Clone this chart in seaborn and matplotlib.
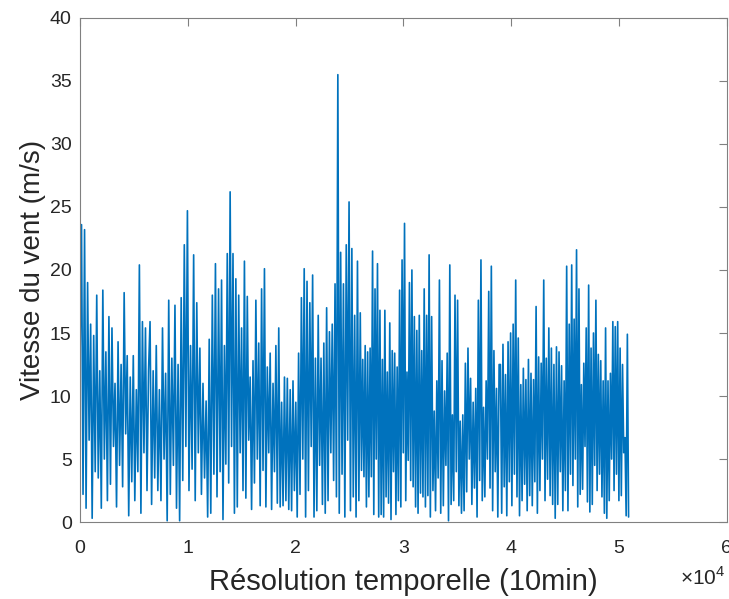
import numpy as np
import pandas as pd
import matplotlib
matplotlib.use('Agg')
import matplotlib.pyplot as plt
import seaborn as sns

# wind speed (m/s), peaks and troughs in order,
# one list per stretch of the record
v_0 = [12.5, 23.6, 2.2, 23.2, 1.1, 19.0, 6.5, 15.7, 0.3, 14.8, 4.0, 18.0, 3.5, 12.0, 1.1, 18.4,
       5.0, 13.5, 1.7, 16.3, 3.0, 15.4, 6.0, 11.0, 1.2, 14.3, 4.5, 12.5, 2.8, 18.2, 7.0, 13.2,
       0.5, 11.5, 3.2, 13.2, 1.7, 10.5, 4.0, 20.4, 0.7, 15.9, 5.5, 15.4, 2.5, 12.0]
v_1 = [15.9, 1.4, 12.0, 3.5, 14.0, 2.5, 10.5, 1.7, 15.4, 5.0, 11.8, 0.1, 17.6, 2.2, 13.0, 4.5,
       17.2, 1.1, 12.5, 0.1, 17.8, 3.3, 22.0, 6.0, 24.7, 2.5, 14.0, 4.2, 21.2, 1.7, 17.4, 5.5,
       13.8, 2.2, 11.0, 3.5, 9.6, 0.4, 14.5, 0.7, 18.0, 3.8, 20.5, 2.0, 18.5]
v_2 = [4.0, 19.2, 0.2, 14.0, 4.6, 21.3, 3.1, 26.2, 6.0, 21.3, 0.7, 19.3, 1.2, 18.0, 5.5, 15.4,
       2.5, 20.7, 1.9, 17.9, 6.5, 11.5, 1.0, 12.8, 3.1, 17.6, 5.0, 14.2, 1.3, 18.5, 4.1, 20.1,
       1.2, 12.3, 5.5, 13.4, 1.0, 11.0, 4.0, 14.0, 1.5, 15.4, 1.2, 9.5, 1.3, 11.5, 1.7, 11.4, 1.0]
v_3 = [10.5, 0.9, 11.2, 2.5, 9.5, 0.4, 13.4, 2.2, 17.8, 5.0, 20.1, 0.4, 19.1, 2.5, 17.4, 6.0,
       19.6, 0.4, 13.0, 0.9, 16.4, 4.5, 13.0, 1.4, 14.2, 0.7, 17.0, 1.7, 15.1, 5.5, 15.7, 3.3,
       18.9, 2.0, 35.5, 0.7, 21.4, 3.8, 18.9, 0.4, 22.0, 6.5, 25.4, 0.9, 21.7, 2.0, 16.4, 0.4,
       20.7, 1.7]
v_4 = [16.6, 4.1, 12.9, 3.6, 14.0, 1.2, 13.5, 2.0, 13.8, 3.6, 21.5, 0.6, 18.5, 5.0, 20.5, 0.4,
       16.8, 0.6, 12.9, 0.4, 16.8, 2.0, 11.9, 1.5, 15.8, 0.2, 13.6, 4.0, 13.4, 0.6, 12.3, 1.7,
       18.4, 1.2, 20.8, 5.5, 23.7, 1.7, 11.9, 4.9, 19.0, 3.3, 20.0, 2.8, 16.3, 1.2, 15.2, 0.7,
       16.4, 2.3, 13.6, 2.0, 18.5, 1.2, 16.4, 2.1, 21.2]
v_5 = [0.4, 16.3, 2.5, 8.8, 0.9, 11.2, 3.5, 19.2, 0.7, 12.8, 1.3, 10.4, 4.5, 13.4, 0.1, 20.4,
       1.4, 8.5, 1.7, 18.0, 4.0, 17.6, 1.3, 8.0, 0.7, 8.5, 0.9, 12.6, 2.4, 13.8, 5.0, 11.4,
       1.4, 9.5, 2.7, 10.6, 0.4, 17.6, 3.3, 20.8, 1.7, 9.1, 2.0, 11.2, 5.0, 18.3, 2.7, 20.3,
       0.9, 13.6, 4.0, 10.6, 0.4, 12.5]
v_6 = [12.5, 0.7, 14.1, 2.8, 11.7, 0.5, 14.3, 3.2, 15.0, 1.3, 15.7, 3.8, 19.2, 2.0, 14.6, 0.5,
       10.9, 1.7, 12.2, 3.0, 11.3, 0.9, 12.9, 2.1, 11.8, 1.3, 11.3, 3.2, 17.1, 0.7, 13.1, 2.5,
       12.6, 5.0, 19.2, 1.7, 13.0, 3.4, 15.4, 2.1, 13.8, 1.4, 12.5, 0.3, 13.9, 1.4, 13.5, 4.0,
       12.4, 0.9, 11.2, 2.5, 20.3, 0.9, 15.7]
v_7 = [3.8, 20.4, 2.9, 16.1, 5.0, 21.6, 1.2, 18.5, 2.2, 10.9, 2.6, 12.6, 6.0, 15.4, 1.6, 18.8,
       0.8, 13.8, 1.4, 15.0, 4.5, 17.6, 2.5, 13.3, 3.8, 12.8, 2.0, 11.2, 0.7, 15.4, 0.3, 11.2,
       1.7, 11.8, 5.0, 15.9, 2.5, 15.5, 3.8, 15.9, 1.7, 13.8, 2.1, 12.5, 5.5, 6.7, 0.5, 14.9, 0.4]
troncons = [v_0, v_1, v_2, v_3, v_4, v_5, v_6, v_7]
# sample index where each stretch starts / the record ends (10 min steps)
bornes = [1, 6500, 13000, 19500, 26000, 32500, 39000, 45500, 51000]

x_ticks = [0, 10000, 20000, 30000, 40000, 50000, 60000]
x_labels = ['0', '1', '2', '3', '4', '5', '6']
y_ticks = [0, 5, 10, 15, 20, 25, 30, 35, 40]

parts = []
for i, v in enumerate(troncons):
    t = np.linspace(bornes[i], bornes[i + 1], len(v), endpoint=False)
    parts.append(pd.DataFrame({'t': t, 'v': v}))
df = pd.concat(parts, ignore_index=True)

sns.set_style('white')
plt.rcParams['font.family'] = ['Liberation Sans', 'DejaVu Sans']
plt.rcParams['mathtext.fontset'] = 'custom'
plt.rcParams['mathtext.rm'] = 'Liberation Sans'

fig = plt.figure(figsize=(7.29, 5.99), dpi=100)
ax = fig.add_axes([0.1097, 0.1285, 0.8873, 0.8415])

sns.lineplot(data=df, x='t', y='v', ax=ax, color='#0072BD', linewidth=1.2)

ax.set_xlim(0, 60000)
ax.set_ylim(0, 40)
ax.set_xticks(x_ticks)
ax.set_xticklabels(x_labels)
ax.set_yticks(y_ticks)
ax.tick_params(direction='in', length=6, width=0.8, color='#808080', labelsize=14,
               labelcolor='#262626', top=True, right=True)
ax.tick_params(axis='x', pad=13)
ax.tick_params(axis='y', pad=6)
for s in ax.spines.values():
    s.set_visible(True)
    s.set_color('#808080')
    s.set_linewidth(0.8)

ax.text(0.997, -0.125, '×10$^{4}$', transform=ax.transAxes,
        ha='right', va='baseline', fontsize=15, color='#262626')

ax.set_xlabel('Résolution temporelle (10min)', fontsize=21, color='#262626', labelpad=8)
ax.set_ylabel('Vitesse du vent (m/s)', fontsize=20, color='#262626', labelpad=3)

fig.savefig('out.png', dpi=100)
